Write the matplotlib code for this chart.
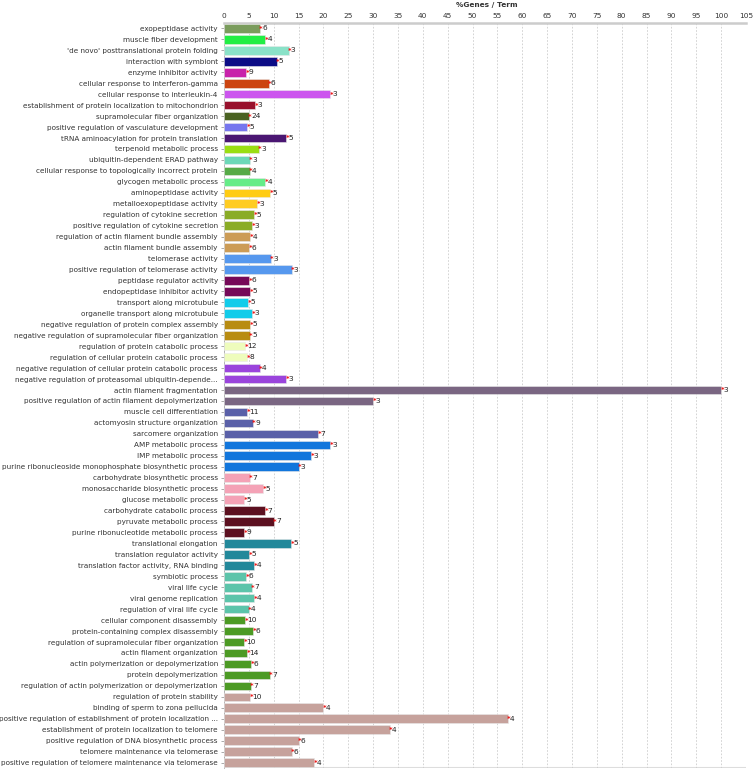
import matplotlib
matplotlib.use("Agg")
import matplotlib.pyplot as plt

terms = [
    "exopeptidase activity",
    "muscle fiber development",
    "'de novo' posttranslational protein folding",
    "interaction with symbiont",
    "enzyme inhibitor activity",
    "cellular response to interferon-gamma",
    "cellular response to interleukin-4",
    "establishment of protein localization to mitochondrion",
    "supramolecular fiber organization",
    "positive regulation of vasculature development",
    "tRNA aminoacylation for protein translation",
    "terpenoid metabolic process",
    "ubiquitin-dependent ERAD pathway",
    "cellular response to topologically incorrect protein",
    "glycogen metabolic process",
    "aminopeptidase activity",
    "metalloexopeptidase activity",
    "regulation of cytokine secretion",
    "positive regulation of cytokine secretion",
    "regulation of actin filament bundle assembly",
    "actin filament bundle assembly",
    "telomerase activity",
    "positive regulation of telomerase activity",
    "peptidase regulator activity",
    "endopeptidase inhibitor activity",
    "transport along microtubule",
    "organelle transport along microtubule",
    "negative regulation of protein complex assembly",
    "negative regulation of supramolecular fiber organization",
    "regulation of protein catabolic process",
    "regulation of cellular protein catabolic process",
    "negative regulation of cellular protein catabolic process",
    "negative regulation of proteasomal ubiquitin-depende...",
    "actin filament fragmentation",
    "positive regulation of actin filament depolymerization",
    "muscle cell differentiation",
    "actomyosin structure organization",
    "sarcomere organization",
    "AMP metabolic process",
    "IMP metabolic process",
    "purine ribonucleoside monophosphate biosynthetic process",
    "carbohydrate biosynthetic process",
    "monosaccharide biosynthetic process",
    "glucose metabolic process",
    "carbohydrate catabolic process",
    "pyruvate metabolic process",
    "purine ribonucleotide metabolic process",
    "translational elongation",
    "translation regulator activity",
    "translation factor activity, RNA binding",
    "symbiotic process",
    "viral life cycle",
    "viral genome replication",
    "regulation of viral life cycle",
    "cellular component disassembly",
    "protein-containing complex disassembly",
    "regulation of supramolecular fiber organization",
    "actin filament organization",
    "actin polymerization or depolymerization",
    "protein depolymerization",
    "regulation of actin polymerization or depolymerization",
    "regulation of protein stability",
    "binding of sperm to zona pellucida",
    "positive regulation of establishment of protein localization ...",
    "establishment of protein localization to telomere",
    "positive regulation of DNA biosynthetic process",
    "telomere maintenance via telomerase",
    "positive regulation of telomere maintenance via telomerase",
]

pct_genes = [
    7.2, 8.3, 13.0, 10.6, 4.5, 9.0, 21.4, 6.3, 5.0, 4.7,
    12.5, 7.0, 5.2, 5.2, 8.3, 9.3, 6.7, 6.1, 5.7, 5.3,
    5.1, 9.4, 13.6, 5.1, 5.3, 4.9, 5.7, 5.3, 5.2, 4.3,
    4.7, 7.2, 12.5, 100.0, 30.0, 4.7, 5.8, 19.0, 21.4, 17.6,
    15.0, 5.2, 7.9, 4.1, 8.3, 10.0, 4.1, 13.5, 5.1, 6.1,
    4.5, 5.6, 6.1, 5.0, 4.3, 5.9, 4.1, 4.7, 5.5, 9.2,
    5.4, 5.3, 20.0, 57.1, 33.3, 15.0, 13.6, 18.2,
]

gene_counts = [
    6, 4, 3, 5, 9, 6, 3, 3, 24, 5,
    5, 3, 3, 4, 4, 5, 3, 5, 3, 4,
    6, 3, 3, 6, 5, 5, 3, 5, 5, 12,
    8, 4, 3, 3, 3, 11, 9, 7, 3, 3,
    3, 7, 5, 5, 7, 7, 9, 5, 5, 4,
    6, 7, 4, 4, 10, 6, 10, 14, 6, 7,
    7, 10, 4, 4, 4, 6, 6, 4,
]

bar_colors = [
    "#7a9c5c", "#22ee44", "#8ae2c8", "#0c0c86", "#c822aa", "#cc4410", "#cc55ee",
    "#98102c", "#4a6222", "#7676ee", "#4a1672", "#9ade12", "#6cd8b8", "#56aa46",
    "#66ec88", "#ffcc14", "#ffcc22",
    "#8aac26", "#8aac26", "#cc9c56", "#cc9c56", "#5698ee", "#5698ee",
    "#760858", "#760858", "#12ccea", "#12ccea", "#b88c12", "#b88c12",
    "#eefcbc", "#eefcbc", "#9a44dc", "#9a44dc", "#7a6682", "#7a6682",
    "#5a60a8", "#5a60a8", "#5a60a8", "#1276dc", "#1276dc", "#1276dc",
    "#f4a2b6", "#f4a2b6", "#f4a2b6", "#5c1020", "#5c1020", "#5c1020",
    "#22889a", "#22889a", "#22889a", "#5cc4aa", "#5cc4aa", "#5cc4aa", "#5cc4aa",
    "#4c9a24", "#4c9a24", "#4c9a24", "#4c9a24", "#4c9a24", "#4c9a24", "#4c9a24",
    "#c6a29c", "#c6a29c", "#c6a29c", "#c6a29c", "#c6a29c", "#c6a29c", "#c6a29c",
]

x_ticks = list(range(0, 106, 5))
x_title = "%Genes / Term"

fig = plt.figure(figsize=(7.55, 7.71), dpi=100)
ax = fig.add_axes([224 / 755, 3 / 771, (746 - 224) / 755, (771 - 3 - 23) / 771])

ypos = list(range(len(terms)))
ax.barh(ypos, pct_genes, height=0.78, color=bar_colors, edgecolor="#e8e8e8",
        linewidth=0.4, zorder=3)

for y, v, n in zip(ypos, pct_genes, gene_counts):
    ax.annotate("*", xy=(v, y), xytext=(-0.5, -0.3), textcoords="offset points",
                fontsize=5, color="#ee1111", va="center", ha="left", zorder=5,
                fontweight="bold")
    ax.annotate(str(n), xy=(v, y), xytext=(1.6, 0), textcoords="offset points",
                fontsize=5.3, color="#222222", va="center", ha="left", zorder=5)

ax.set_xlim(0, 105)
ax.set_ylim(len(terms) - 0.5, -0.5)
ax.set_xticks(x_ticks)
ax.set_xticklabels([str(t) for t in x_ticks], fontsize=5.3, color="#333333")
ax.xaxis.tick_top()
ax.tick_params(axis="x", length=0, pad=3)
ax.set_yticks(ypos)
ax.set_yticklabels(terms, fontsize=5.2, color="#333333")
ax.tick_params(axis="y", length=2.5, width=0.5, color="#888888", pad=2)

ax.grid(axis="x", linestyle=(0, (2, 2)), color="#cccccc", linewidth=0.6, zorder=0)
for side in ["right", "bottom"]:
    ax.spines[side].set_visible(False)
ax.spines["top"].set_color("#cccccc")
ax.spines["top"].set_linewidth(1.8)
ax.spines["left"].set_color("#aaaaaa")
ax.spines["left"].set_linewidth(0.6)
ax.axhline(len(terms) - 0.5, color="#dddddd", linewidth=1.5, zorder=1)

fig.text(487 / 755, 1 - 5 / 771, x_title, fontsize=5.3, fontweight="bold",
         color="#333333", ha="center", va="center")

fig.savefig("out.png", dpi=100)
